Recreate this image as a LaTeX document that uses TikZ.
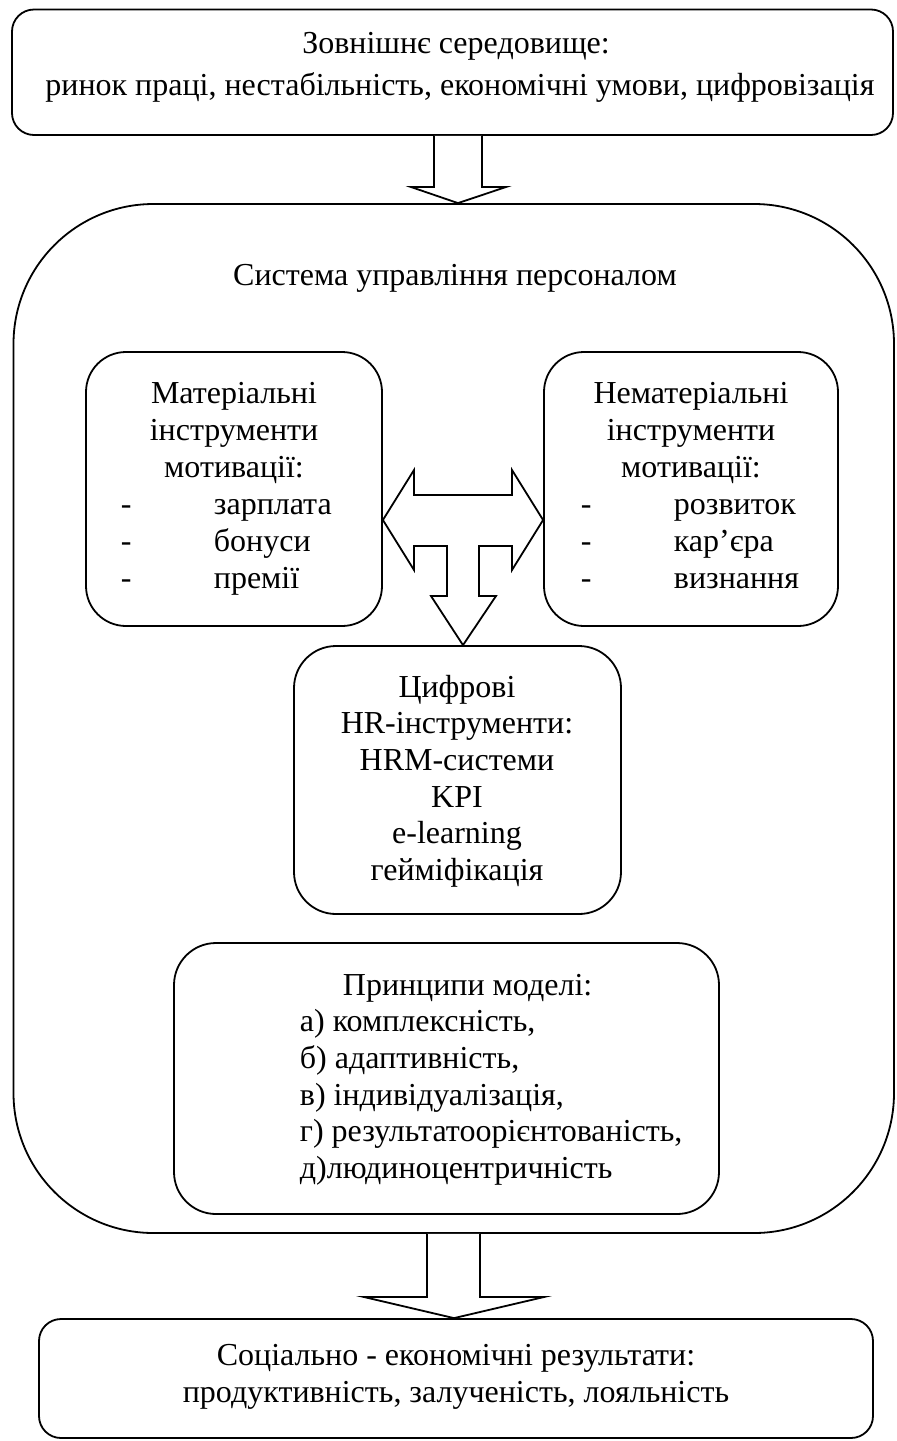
\documentclass[tikz,border=0pt]{standalone}
\usepackage{fontspec}
\setmainfont{Liberation Serif}
\usetikzlibrary{fit}
\begin{document}
\begin{tikzpicture}[x=0.5pt,y=-0.5pt,
  line width=0.9pt,
  box/.style={draw,inner sep=0pt,line width=0.9pt},
  txt/.style={inner sep=0pt,anchor=base,font=\fontsize{16pt}{18.35pt}\selectfont},
  ltxt/.style={txt,anchor=base west},
  blockarrow/.style={draw,line width=0.9pt,line join=miter,fill=white}]
\useasboundingbox (0,0) rectangle (896,1441);
% boxes
\node[box,rounded corners=11pt,fit={(12,9.5) (893,135)}] (top) {};
\node[box,rounded corners=70pt,fit={(13.5,204) (894,1233)}] (sys) {};
\node[box,rounded corners=20pt,fit={(86,352) (382,626)}] (lbox) {};
\node[box,rounded corners=20pt,fit={(544,352) (838,626)}] (rbox) {};
\node[box,rounded corners=21pt,fit={(294,646) (621,914)}] (dbox) {};
\node[box,rounded corners=21pt,fit={(174,943) (719,1214)}] (pbox) {};
\node[box,rounded corners=11pt,fit={(39,1319) (873,1438)}] (res) {};
% texts
\node[txt] (t1) at (456,53) {Зовнішнє середовище:};
\node[txt] (t2) at (460,95) {ринок праці, нестабільність, економічні умови, цифровізація};
\node[txt] (s1) at (455,285) {Система управління персоналом};
% left box
\node[txt] (l1) at (234,403) {Матеріальні};
\node[txt] (l2) at (234,440) {інструменти};
\node[txt] (l3) at (234,477) {мотивації:};
\node[ltxt] (l4d) at (120,514) {-};
\node[ltxt] (l4) at (213,514) {зарплата};
\node[ltxt] (l5d) at (120,551) {-};
\node[ltxt] (l5) at (213,551) {бонуси};
\node[ltxt] (l6d) at (120,588) {-};
\node[ltxt] (l6) at (213,588) {премії};
% right box
\node[txt] (r1) at (691,403) {Нематеріальні};
\node[txt] (r2) at (691,440) {інструменти};
\node[txt] (r3) at (691,477) {мотивації:};
\node[ltxt] (r4d) at (580,514) {-};
\node[ltxt] (r4) at (673,514) {розвиток};
\node[ltxt] (r5d) at (580,551) {-};
\node[ltxt] (r5) at (673,551) {кар’єра};
\node[ltxt] (r6d) at (580,588) {-};
\node[ltxt] (r6) at (673,588) {визнання};
% digital box
\node[txt] (d1) at (457,697) {Цифрові};
\node[txt] (d2) at (457,733.7) {HR-інструменти:};
\node[txt] (d3) at (457,770.4) {HRM-системи};
\node[txt] (d4) at (457,807.1) {KPI};
\node[txt] (d5) at (457,843.8) {e-learning};
\node[txt] (d6) at (457,880.5) {гейміфікація};
% principles
\node[ltxt] (p0) at (342,995) {Принципи моделі:};
\node[ltxt] (p1) at (299,1031.6) {а) комплексність,};
\node[ltxt] (p2) at (299,1068.3) {б) адаптивність,};
\node[ltxt] (p3) at (299,1105) {в) індивідуалізація,};
\node[ltxt] (p4) at (299,1141.7) {г) результатоорієнтованість,};
\node[ltxt] (p5) at (299,1178.3) {д)людиноцентричність};
% results
\node[txt] (e1) at (456,1365) {Соціально - економічні результати:};
\node[txt] (e2) at (456,1402) {продуктивність, залученість, лояльність};
% top arrow
\draw[blockarrow] (434,0 |- top.south) -- (434,187) -- (411,187) -- (458,0 |- sys.north)
  -- (506,187) -- (482,187) -- (482,0 |- top.south);
% T arrow
\draw[blockarrow] (lbox.east |- 0,520) -- (414,470) -- (414,495) -- (512,495) -- (512,470)
  -- (rbox.west |- 0,520) -- (512,570) -- (512,546) -- (479,546) -- (479,596) -- (496,596)
  -- (463,0 |- dbox.north) -- (431,596) -- (447,596) -- (447,546) -- (414,546) -- (414,570) -- cycle;
% bottom arrow
\draw[blockarrow] (427,0 |- sys.south) -- (427,1297) -- (364,1297) -- (454,0 |- res.north)
  -- (544,1297) -- (480,1297) -- (480,0 |- sys.south);
\end{tikzpicture}
\end{document}
